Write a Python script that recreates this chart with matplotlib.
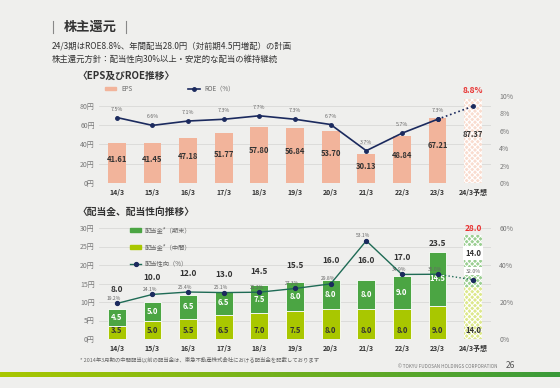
import numpy as np
import matplotlib
matplotlib.use('Agg')
import matplotlib.pyplot as plt
from matplotlib.lines import Line2D
from matplotlib.patches import Patch

plt.rcParams['font.family'] = ['Noto Sans CJK JP', 'DejaVu Sans']
plt.rcParams['hatch.linewidth'] = 0.8

# data
years = ['14/3', '15/3', '16/3', '17/3', '18/3', '19/3', '20/3', '21/3', '22/3', '23/3', '24/3予想']
eps = [41.61, 41.45, 47.18, 51.77, 57.80, 56.84, 53.70, 30.13, 48.84, 67.21, 87.37]
roe = [7.5, 6.6, 7.1, 7.3, 7.7, 7.3, 6.7, 3.7, 5.7, 7.3, 8.8]
div_interim = [3.5, 5.0, 5.5, 6.5, 7.0, 7.5, 8.0, 8.0, 8.0, 9.0, 14.0]
div_yearend = [4.5, 5.0, 6.5, 6.5, 7.5, 8.0, 8.0, 8.0, 9.0, 14.5, 14.0]
payout = [19.2, 24.1, 25.4, 25.1, 25.3, 27.3, 29.8, 53.1, 34.9, 35.0, 32.0]

BG = '#efefed'
SALMON = '#f2b49b'
NAVY = '#1b2a5e'
GREEN = '#4ba543'
LGREEN = '#a9c700'
TEAL = '#1f6b55'
GRID = '#d9d9d7'
TXT = '#333333'

fig = plt.figure(figsize=(5.6, 3.88), dpi=100, facecolor=BG)
x = np.arange(len(years))

# header
fig.add_artist(Line2D([53/560, 53/560], [1-21/388, 1-33/388], color='#888888', lw=0.8))
fig.add_artist(Line2D([126/560, 126/560], [1-21/388, 1-33/388], color='#888888', lw=0.8))
fig.text(64/560, 1-27/388, '株主還元', fontsize=9.5, fontweight='bold', color=TXT, va='center')
fig.text(52/560, 1-46/388, '24/3期はROE8.8%、年間配当28.0円（対前期4.5円増配）の計画',
         fontsize=6, color=TXT, va='center')
fig.text(52/560, 1-59/388, '株主還元方針：配当性向30%以上・安定的な配当の維持継続',
         fontsize=6, color=TXT, va='center')
fig.text(78/560, 1-76/388, '〈EPS及びROE推移〉', fontsize=7, fontweight='bold', color=TXT, va='center')
fig.text(78/560, 1-212/388, '〈配当金、配当性向推移〉', fontsize=7, fontweight='bold', color=TXT, va='center')

# ---- EPS / ROE chart
ax1 = fig.add_axes([99/560, 1-183/388, 392/560, 87.3/388])
ax1.set_facecolor('none')
ax1.set_xlim(-0.5, len(years) - 0.5)
ax1.set_ylim(0, 90.7)
ax1.set_yticks([0, 20, 40, 60, 80])
ax1.set_yticklabels([f'{v}円' for v in [0, 20, 40, 60, 80]])
for y in [0, 20, 40, 60, 80]:
    ax1.axhline(y, color=GRID, lw=0.6, zorder=0)
ax1.bar(x[:-1], eps[:-1], width=0.5, color=SALMON, zorder=2)
ax1.bar(x[-1], eps[-1], width=0.5, color='#f9dccf', edgecolor='white', hatch='xxxxxx',
        linewidth=0, zorder=2)
for i, v in enumerate(eps):
    ax1.text(i, v * 0.58, f'{v:.2f}', ha='center', va='center', fontsize=5.5,
             fontweight='bold', color=TXT, zorder=5)
ax1.set_xticks(x)
ax1.set_xticklabels(years, fontsize=5, fontweight='bold', color=TXT)
for sp in ax1.spines.values():
    sp.set_visible(False)
ax1.tick_params(length=0, labelsize=5, colors='#777777', pad=3)
ax1.tick_params(axis='x', colors=TXT, pad=4)

ax1r = ax1.twinx()
ax1r.set_ylim(0, 10)
ax1r.set_yticks([0, 2, 4, 6, 8, 10])
ax1r.set_yticklabels([f'{v}%' for v in [0, 2, 4, 6, 8, 10]])
for sp in ax1r.spines.values():
    sp.set_visible(False)
ax1r.tick_params(length=0, labelsize=5, colors='#777777', pad=6)
ax1r.plot(x[:-1], roe[:-1], color=NAVY, lw=1.2, marker='o', ms=2.5, zorder=4)
ax1r.plot(x[-2:], roe[-2:], color=NAVY, lw=1.2, ls=':', marker='o', ms=2.5, zorder=4)
for i, v in enumerate(roe[:-1]):
    ax1r.annotate(f'{v}%', (i, v), xytext=(0, 5), textcoords='offset points',
                  ha='center', fontsize=3.8, color='#666666')
ax1r.annotate(f'{roe[-1]}%', (x[-1], eps[-1] / 90.7 * 10), xytext=(0, 4),
              textcoords='offset points', ha='center', fontsize=6,
              fontweight='bold', color='#e8302f')

h1 = [Patch(color=SALMON), Line2D([], [], color=NAVY, lw=1.2, marker='o', ms=2.5)]
ax1.legend(h1, ['EPS', 'ROE（%）'], ncol=2, frameon=False, loc='lower left',
           bbox_to_anchor=(0.0, 0.97), fontsize=4.5, columnspacing=9,
           handlelength=1.8, handleheight=0.6, labelcolor='#666666')

# ---- dividend chart
ax2 = fig.add_axes([99/560, 1-339/388, 392/560, 111/388])
ax2.set_facecolor('none')
ax2.set_xlim(-0.5, len(years) - 0.5)
ax2.set_ylim(0, 30)
ticks2 = [0, 5, 10, 15, 20, 25, 30]
ax2.set_yticks(ticks2)
ax2.set_yticklabels([f'{v}円' for v in ticks2])
for y in ticks2:
    ax2.axhline(y, color=GRID, lw=0.6, zorder=0)
ax2.bar(x[:-1], div_interim[:-1], width=0.5, color=LGREEN, edgecolor='white', lw=0.6, zorder=2)
ax2.bar(x[:-1], div_yearend[:-1], bottom=div_interim[:-1], width=0.5, color=GREEN,
        edgecolor='white', lw=0.6, zorder=2)
ax2.bar(x[-1], div_interim[-1], width=0.5, color='#dde88c', edgecolor='white',
        hatch='xxxxxx', lw=0, zorder=2)
ax2.bar(x[-1], div_yearend[-1], bottom=div_interim[-1], width=0.5, color='#9bcf92',
        edgecolor='white', hatch='xxxxxx', lw=0, zorder=2)
total = [a + b for a, b in zip(div_interim, div_yearend)]
tot_off = [14.4, 17.3, 15.1, 11.5, 10, 11.5, 13.7, 13.7, 13.7, 5.8, 5]
for i in range(len(years)):
    ax2.text(i, 2.2, f'{div_interim[i]:.1f}', ha='center', va='center', fontsize=5.5,
             fontweight='bold', color=TXT, zorder=5)
    if i < len(years) - 1:
        ax2.text(i, div_interim[i] + div_yearend[i] / 2, f'{div_yearend[i]:.1f}', ha='center',
                 va='center', fontsize=5.5, fontweight='bold', color='white', zorder=5)
    else:
        ax2.text(i, total[i] - 4.8, f'{div_yearend[i]:.1f}', ha='center', va='center',
                 fontsize=5.5, fontweight='bold', color=TXT, zorder=5,
                 bbox=dict(boxstyle='square,pad=0.3', fc='white', ec='none'))
    ax2.annotate(f'{total[i]:.1f}', (i, total[i]), xytext=(0, tot_off[i]),
                 textcoords='offset points', ha='center', va='center', fontsize=6,
                 fontweight='bold', color='#e8302f' if i == len(years) - 1 else TXT)
ax2.set_xticks(x)
ax2.set_xticklabels(years, fontsize=5, fontweight='bold', color=TXT)
for sp in ax2.spines.values():
    sp.set_visible(False)
ax2.tick_params(length=0, labelsize=5, colors='#777777', pad=3)
ax2.tick_params(axis='x', colors=TXT, pad=4)

ax2r = ax2.twinx()
ax2r.set_ylim(0, 60)
ax2r.set_yticks([0, 20, 40, 60])
ax2r.set_yticklabels([f'{v}%' for v in [0, 20, 40, 60]])
for sp in ax2r.spines.values():
    sp.set_visible(False)
ax2r.tick_params(length=0, labelsize=5, colors='#777777', pad=6)
ax2r.plot(x[:-1], payout[:-1], color=TEAL, lw=1.0, zorder=4)
ax2r.plot(x[-2:], payout[-2:], color=TEAL, lw=1.0, ls=':', zorder=4)
ax2r.plot(x, payout, ls='none', marker='o', ms=2.8, color=NAVY, zorder=5)
for i, v in enumerate(payout[:-1]):
    ax2r.annotate(f'{v}%', (i, v), xytext=(-2, 2.5), textcoords='offset points',
                  ha='center', fontsize=3.6, color='#666666')
ax2r.annotate(f'{payout[-1]}%', (x[-1], payout[-1]), xytext=(0, 5), textcoords='offset points',
              ha='center', fontsize=3.8, color='#666666',
              bbox=dict(boxstyle='square,pad=0.3', fc='white', ec='none'))

h2 = [Patch(color=GREEN), Patch(color=LGREEN),
      Line2D([], [], color=TEAL, lw=1.0, marker='o', ms=2.8, mfc=NAVY, mec=NAVY)]
ax2.legend(h2, ['配当金*（期末）', '配当金*（中間）', '配当性向（%）'], frameon=False,
           loc='upper left', bbox_to_anchor=(0.065, 1.065), fontsize=4.5,
           labelspacing=1.4, handlelength=1.8, handletextpad=0.5, handleheight=0.6,
           labelcolor='#666666')

# footer
fig.text(80/560, 1-359/388, '* 2014年3月期の中間配当以前の配当金は、東急不動産株式会社における配当金を記載しております',
         fontsize=3.9, color='#666666', va='center')
fig.text(497/560, 1-366/388, '© TOKYU FUDOSAN HOLDINGS CORPORATION', fontsize=3.3,
         color='#777777', va='center', ha='right')
fig.text(506/560, 1-366/388, '26', fontsize=6, color='#555555', va='center')

axg = fig.add_axes([0, 1-377.5/388, 1, 5.5/388])
grad = np.linspace(0, 1, 256).reshape(1, -1)
cmap = matplotlib.colors.LinearSegmentedColormap.from_list('g', [LGREEN, '#3a9a3a'])
axg.imshow(grad, aspect='auto', cmap=cmap)
axg.axis('off')

fig.savefig('out.png', dpi=100, facecolor=BG)
